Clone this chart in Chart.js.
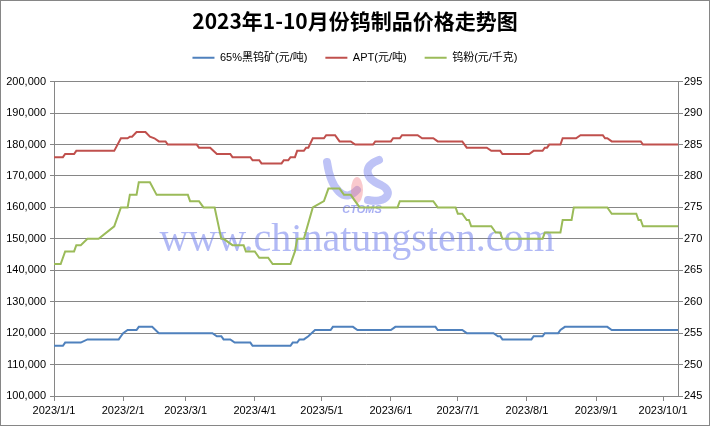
<!DOCTYPE html>
<html>
<head>
<meta charset="utf-8">
<script src="https://cdn.jsdelivr.net/npm/chart.js@4.4.0/dist/chart.umd.min.js"></script>
<style>
  html, body { margin: 0; padding: 0; background: #fff; }
</style>
</head>
<body>
<canvas id="priceChart" width="710" height="426"></canvas>
<script>
// x axis: month starts
const monthLabels = ["2023/1/1", "2023/2/1", "2023/3/1", "2023/4/1", "2023/5/1",
  "2023/6/1", "2023/7/1", "2023/8/1", "2023/9/1", "2023/10/1"];

// 65%黑钨矿 (元/吨) - dates where the line turns, and the price there
const oreDates = ["2023-01-01", "2023-01-05", "2023-01-06", "2023-01-13", "2023-01-16", "2023-01-30",
  "2023-01-31", "2023-02-01", "2023-02-03", "2023-02-07", "2023-02-08", "2023-02-14", "2023-02-17",
  "2023-03-13", "2023-03-15", "2023-03-17", "2023-03-18", "2023-03-21", "2023-03-23", "2023-03-30",
  "2023-03-31", "2023-04-17", "2023-04-18", "2023-04-20", "2023-04-21", "2023-04-23", "2023-04-25",
  "2023-04-28", "2023-05-05", "2023-05-06", "2023-05-15", "2023-05-17", "2023-06-01", "2023-06-03",
  "2023-06-21", "2023-06-22", "2023-07-03", "2023-07-05", "2023-07-17", "2023-07-19", "2023-07-20",
  "2023-07-21", "2023-08-03", "2023-08-04", "2023-08-08", "2023-08-09", "2023-08-15", "2023-08-16",
  "2023-08-18", "2023-09-06", "2023-09-08", "2023-10-08"];
const oreValues = [116000, 116000, 117000, 117000, 118000, 118000,
  119000, 120000, 121000, 121000, 122000, 122000, 120000,
  120000, 119000, 119000, 118000, 118000, 117000, 117000,
  116000, 116000, 117000, 117000, 118000, 118000, 119000,
  121000, 121000, 122000, 122000, 121000, 121000, 122000,
  122000, 121000, 121000, 120000, 120000, 119000, 119000,
  118000, 118000, 119000, 119000, 120000, 120000, 121000,
  122000, 122000, 121000, 121000];

// APT (元/吨)
const aptDates = ["2023-01-01", "2023-01-05", "2023-01-06", "2023-01-10", "2023-01-11", "2023-01-28",
  "2023-01-31", "2023-02-03", "2023-02-04", "2023-02-05", "2023-02-07", "2023-02-11", "2023-02-13",
  "2023-02-15", "2023-02-17", "2023-02-20", "2023-02-21", "2023-03-06", "2023-03-07", "2023-03-12",
  "2023-03-15", "2023-03-21", "2023-03-22", "2023-03-30", "2023-03-31", "2023-04-03", "2023-04-04",
  "2023-04-13", "2023-04-14", "2023-04-16", "2023-04-17", "2023-04-19", "2023-04-20", "2023-04-23",
  "2023-04-24", "2023-04-25", "2023-04-27", "2023-05-02", "2023-05-03", "2023-05-07", "2023-05-09",
  "2023-05-14", "2023-05-16", "2023-05-24", "2023-05-25", "2023-06-01", "2023-06-02", "2023-06-05",
  "2023-06-06", "2023-06-13", "2023-06-15", "2023-06-20", "2023-06-22", "2023-07-03", "2023-07-05",
  "2023-07-14", "2023-07-16", "2023-07-20", "2023-07-21", "2023-08-02", "2023-08-04", "2023-08-08",
  "2023-08-09", "2023-08-10", "2023-08-11", "2023-08-16", "2023-08-17", "2023-08-23", "2023-08-25",
  "2023-09-04", "2023-09-05", "2023-09-06", "2023-09-08", "2023-09-21", "2023-09-22", "2023-10-08"];
const aptValues = [176000, 176000, 177000, 177000, 178000, 178000,
  182000, 182000, 182500, 182500, 184000, 184000, 182500,
  182000, 181000, 181000, 180000, 180000, 179000, 179000,
  177000, 177000, 176000, 176000, 175000, 175000, 174000,
  174000, 175000, 175000, 176000, 176000, 178000, 178000,
  179000, 179000, 182000, 182000, 183000, 183000, 181000,
  181000, 180000, 180000, 181000, 181000, 182000, 182000,
  183000, 183000, 182000, 182000, 181000, 181000, 179000,
  179000, 178000, 178000, 177000, 177000, 178000, 178000,
  179000, 179000, 180000, 180000, 182000, 182000, 183000,
  183000, 182000, 182000, 181000, 181000, 180000, 180000];

// 钨粉 (元/千克), right axis
const powderDates = ["2023-01-01", "2023-01-04", "2023-01-06", "2023-01-10", "2023-01-11", "2023-01-13",
  "2023-01-16", "2023-01-21", "2023-01-28", "2023-01-31", "2023-02-03", "2023-02-04", "2023-02-07",
  "2023-02-08", "2023-02-13", "2023-02-16", "2023-03-02", "2023-03-03", "2023-03-07", "2023-03-09",
  "2023-03-14", "2023-03-17", "2023-03-18", "2023-03-22", "2023-03-27", "2023-03-28", "2023-04-01",
  "2023-04-03", "2023-04-07", "2023-04-09", "2023-04-17", "2023-04-19", "2023-04-20", "2023-04-23",
  "2023-04-27", "2023-05-02", "2023-05-04", "2023-05-09", "2023-05-11", "2023-05-14", "2023-05-18",
  "2023-06-04", "2023-06-05", "2023-06-20", "2023-06-22", "2023-06-30", "2023-07-01", "2023-07-03",
  "2023-07-05", "2023-07-06", "2023-07-07", "2023-07-16", "2023-07-18", "2023-07-20", "2023-07-21",
  "2023-08-08", "2023-08-09", "2023-08-16", "2023-08-17", "2023-08-21", "2023-08-22", "2023-09-06",
  "2023-09-08", "2023-09-19", "2023-09-20", "2023-09-21", "2023-09-22", "2023-10-08"];
const powderValues = [266, 266, 268, 268, 269, 269,
  270, 270, 272, 275, 275, 277, 277,
  279, 279, 277, 277, 276, 276, 275,
  275, 270, 270, 269, 269, 268, 268,
  267, 267, 266, 266, 268, 270, 270,
  275, 276, 278, 278, 277, 277, 275,
  275, 276, 276, 275, 275, 274, 274,
  273, 273, 272, 272, 271, 271, 270,
  270, 271, 271, 273, 273, 275, 275,
  274, 274, 273, 273, 272, 272];

const seriesNames = ["65%黑钨矿(元/吨)", "APT(元/吨)", "钨粉(元/千克)"];
const seriesColors = ["#4f81bd", "#c0504d", "#9bbb59"];

const DAY0 = Date.UTC(2023, 0, 1);
const dayOf = s => (Date.parse(s + "T00:00:00Z") - DAY0) / 864e5;
const monthDays = monthLabels.map(l => {
  const [y, m, d] = l.split("/").map(Number);
  return (Date.UTC(y, m - 1, d) - DAY0) / 864e5;
});
const toPoints = (dates, values) => dates.map((d, i) => ({ x: dayOf(d), y: values[i] }));

const gridColor = "#868686";
const fontFamily = '"Liberation Sans", "Noto Sans CJK SC", sans-serif';
Chart.defaults.font.family = fontFamily;
Chart.defaults.color = "#000";

// a bit of room between the legend and the plot
const legendGap = {
  id: "legendGap",
  beforeLayout(chart) {
    const lg = chart.legend;
    if (lg && !lg._gapPatched) {
      const fit = lg.fit.bind(lg);
      lg.fit = function () { fit(); this.height += 8.5; };
      lg._gapPatched = true;
    }
  }
};

const watermark = {
  id: "watermark",
  beforeDatasetsDraw(chart) {
    const ctx = chart.ctx;
    ctx.save();
    ctx.lineCap = "round";
    ctx.strokeStyle = "rgba(110,122,235,0.45)";
    ctx.lineWidth = 8;
    ctx.beginPath();
    ctx.moveTo(327, 162);
    ctx.bezierCurveTo(331, 190, 345, 204, 357, 190);
    ctx.stroke();
    ctx.beginPath();
    ctx.moveTo(379, 160);
    ctx.bezierCurveTo(363, 166, 364, 178, 381, 185);
    ctx.bezierCurveTo(395, 192, 386, 204, 368, 200);
    ctx.stroke();
    ctx.fillStyle = "rgba(240,120,130,0.4)";
    ctx.beginPath();
    ctx.ellipse(357, 190, 6, 13, 0, 0, Math.PI * 2);
    ctx.fill();
    ctx.fillStyle = "rgba(110,122,235,0.6)";
    ctx.font = 'italic bold 11px "Liberation Sans"';
    ctx.textAlign = "center";
    ctx.textBaseline = "middle";
    ctx.fillText("CTOMS", 362, 210);
    ctx.font = '40px "Liberation Serif"';
    ctx.fillStyle = "rgba(100,115,235,0.5)";
    ctx.textBaseline = "alphabetic";
    ctx.fillText("www.chinatungsten.com", 357, 251);
    ctx.restore();
  }
};

const frame = {
  id: "frame",
  afterDraw(chart) {
    const ctx = chart.ctx;
    ctx.save();
    ctx.strokeStyle = gridColor;
    ctx.lineWidth = 1;
    ctx.strokeRect(0.5, 0.5, chart.width - 1, chart.height - 1);
    ctx.restore();
  }
};

new Chart(document.getElementById("priceChart").getContext("2d"), {
  type: "line",
  data: {
    datasets: [
      { label: seriesNames[0], data: toPoints(oreDates, oreValues), yAxisID: "y" },
      { label: seriesNames[1], data: toPoints(aptDates, aptValues), yAxisID: "y" },
      { label: seriesNames[2], data: toPoints(powderDates, powderValues), yAxisID: "y1" }
    ].map((ds, i) => Object.assign(ds, {
      borderColor: seriesColors[i],
      backgroundColor: seriesColors[i],
      borderWidth: 2,
      pointRadius: 0,
      tension: 0,
      fill: false
    }))
  },
  options: {
    responsive: false,
    animation: false,
    devicePixelRatio: 1,
    layout: { padding: { top: 0, left: 0, right: 0, bottom: 0 } },
    plugins: {
      title: {
        display: true,
        text: "2023年1-10月份钨制品价格走势图",
        font: { family: '"Noto Sans CJK SC"', size: 21, weight: "bold" },
        color: "#000",
        padding: { top: 8, bottom: 1 }
      },
      legend: {
        labels: {
          usePointStyle: true,
          pointStyle: "line",
          pointStyleWidth: 22,
          boxHeight: 2,
          font: { size: 11 },
          padding: 18,
          color: "#000"
        }
      },
      tooltip: { enabled: false }
    },
    scales: {
      x: {
        type: "linear",
        min: 0,
        max: 279.7,
        afterBuildTicks: s => { s.ticks = monthDays.map(v => ({ value: v })); },
        afterFit: s => { s.height = 30; },
        ticks: {
          autoSkip: false,
          maxRotation: 0,
          padding: 3,
          font: { size: 11 },
          callback: v => monthLabels[monthDays.indexOf(v)]
        },
        grid: { drawOnChartArea: false, tickLength: 5, color: gridColor },
        border: { color: gridColor }
      },
      y: {
        position: "left",
        min: 100000,
        max: 200000,
        afterFit: s => { s.width = 54; },
        ticks: {
          stepSize: 10000,
          padding: 4,
          font: { size: 11 },
          callback: v => v.toLocaleString("en-US")
        },
        grid: { color: gridColor, tickLength: 4 },
        border: { color: gridColor }
      },
      y1: {
        position: "right",
        min: 245,
        max: 295,
        afterFit: s => { s.width = 32; },
        ticks: { stepSize: 5, padding: 1, font: { size: 11 } },
        grid: { drawOnChartArea: false, tickLength: 5, color: gridColor },
        border: { color: gridColor }
      }
    }
  },
  plugins: [legendGap, watermark, frame]
});
</script>
</body>
</html>
